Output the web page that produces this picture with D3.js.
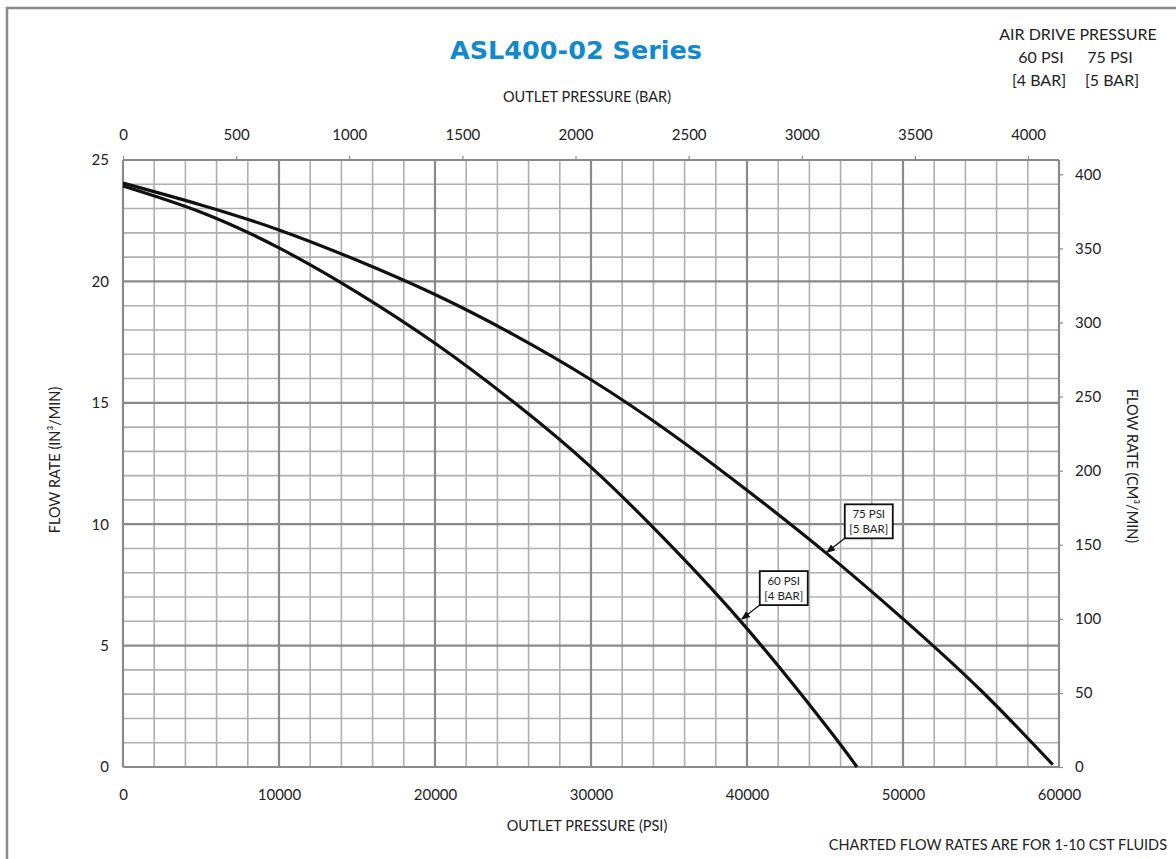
<!DOCTYPE html>
<html>
<head>
<meta charset="utf-8">
<script src="https://cdn.jsdelivr.net/npm/d3@7"></script>
<style>
  html, body { margin: 0; padding: 0; background: #fff; }
  svg { display: block; }
  text { font-family: Lato, "Noto Sans", sans-serif; fill: #222; }
</style>
</head>
<body>
<svg id="chart" width="1176" height="859"></svg>
<script>
// ---------- DATA ----------
const psi75X = [0, 5000, 10000, 15000, 20000, 25000, 30000, 35000, 40000, 45000, 50000, 55000, 59600];
const psi75Y = [24.05, 23.15, 22.12, 20.87, 19.46, 17.82, 15.95, 13.8, 11.4, 8.85, 6.1, 3.15, 0.1];
const psi60X = [0, 5000, 10000, 15000, 20000, 25000, 30000, 35000, 40000, 45000, 47050];
const psi60Y = [23.93, 22.85, 21.38, 19.55, 17.45, 15.05, 12.35, 9.2, 5.7, 1.75, 0];
const psiTicks = [0, 10000, 20000, 30000, 40000, 50000, 60000];
const barTicks = [0, 500, 1000, 1500, 2000, 2500, 3000, 3500, 4000];
const in3Ticks = [0, 5, 10, 15, 20, 25];
const cm3Ticks = [0, 50, 100, 150, 200, 250, 300, 350, 400];
const seriesNames = ["60 PSI", "75 PSI"];
const seriesBars = ["[4 BAR]", "[5 BAR]"];
const calloutAt = [{ psi: 39600, flow: 6.05 }, { psi: 45050, flow: 8.8 }];
const PSI_PER_BAR = 14.5038;
const CM3_PER_IN3 = 16.387;
const X_MAX = 60000, Y_MAX = 25;

// ---------- LAYOUT ----------
const svg = d3.select("#chart");
const L = 123, R = 1059, T = 160, B = 767;

const x = d3.scaleLinear().domain([0, X_MAX]).range([L, R]);
const xBar = d3.scaleLinear().domain([0, X_MAX / PSI_PER_BAR]).range([L, R]);
const y = d3.scaleLinear().domain([0, Y_MAX]).range([B, T]);
const yCm = d3.scaleLinear().domain([0, Y_MAX * CM3_PER_IN3]).range([B, T]);

// outer frame
svg.append("rect").attr("x", 7).attr("y", 8).attr("width", 1200).attr("height", 900)
  .attr("fill", "none").attr("stroke", "#8a8a8a").attr("stroke-width", 2.5);

// grid
const g = svg.append("g");
const minorX = d3.range(0, X_MAX + 1, 2000);
const minorY = d3.range(0, Y_MAX + 0.001, 1);
g.selectAll(".mx").data(minorX.filter(v => v % 10000 !== 0)).join("line")
  .attr("x1", d => x(d)).attr("x2", d => x(d)).attr("y1", T).attr("y2", B)
  .attr("stroke", "#b0b0b0").attr("stroke-width", 1.6);
g.selectAll(".my").data(minorY.filter(v => v % 5 !== 0)).join("line")
  .attr("x1", L).attr("x2", R).attr("y1", d => y(d)).attr("y2", d => y(d))
  .attr("stroke", "#b0b0b0").attr("stroke-width", 1.6);
g.selectAll(".Mx").data(psiTicks).join("line")
  .attr("x1", d => x(d)).attr("x2", d => x(d)).attr("y1", T).attr("y2", B)
  .attr("stroke", "#8a8a8a").attr("stroke-width", 2.2);
g.selectAll(".My").data(in3Ticks).join("line")
  .attr("x1", L).attr("x2", R).attr("y1", d => y(d)).attr("y2", d => y(d))
  .attr("stroke", "#8a8a8a").attr("stroke-width", 2.2);

// axes
function styleAxis(sel) {
  sel.select(".domain").remove();
  sel.selectAll(".tick line").attr("stroke", "#8a8a8a").attr("stroke-width", 1.2);
  sel.selectAll(".tick text").attr("font-size", 15).attr("fill", "#222")
    .style("font-family", "Lato, 'Noto Sans', sans-serif");
}
svg.append("g").attr("transform", `translate(0,${B})`)
  .call(d3.axisBottom(x).tickValues(psiTicks).tickSize(0).tickPadding(22).tickFormat(d3.format("d")))
  .call(styleAxis);
svg.append("g").attr("transform", `translate(${L},0)`)
  .call(d3.axisLeft(y).tickValues(in3Ticks).tickSize(0).tickPadding(14).tickFormat(d3.format("d")))
  .call(styleAxis);
svg.append("g").attr("transform", `translate(0,${T})`)
  .call(d3.axisTop(xBar).tickValues(barTicks).tickSize(4).tickPadding(16).tickFormat(d3.format("d")))
  .call(styleAxis);
svg.append("g").attr("transform", `translate(${R},0)`)
  .call(d3.axisRight(yCm).tickValues(cm3Ticks).tickSize(4).tickPadding(12).tickFormat(d3.format("d")))
  .call(styleAxis);

// curves
const line = d3.line().x(d => x(d[0])).y(d => y(d[1])).curve(d3.curveNatural);
[[psi60X, psi60Y], [psi75X, psi75Y]].forEach(([xs, ys]) => {
  svg.append("path").datum(xs.map((v, i) => [v, ys[i]]))
    .attr("d", line).attr("fill", "none").attr("stroke", "#111").attr("stroke-width", 3.2)
    .attr("stroke-linejoin", "round");
});

// arrow marker
svg.append("defs").append("marker").attr("id", "arr").attr("viewBox", "0 0 10 10")
  .attr("refX", 9).attr("refY", 5).attr("markerWidth", 7).attr("markerHeight", 7)
  .attr("orient", "auto").append("path").attr("d", "M0,1 L10,5 L0,9 z").attr("fill", "#111");

// callouts
calloutAt.forEach((c, i) => {
  const px = x(c.psi), py = y(c.flow);
  const bx = px + 19, by = py - 49, bw = 48, bh = 34;
  svg.append("line").attr("x1", bx).attr("y1", by + bh).attr("x2", px + 1).attr("y2", py - 1)
    .attr("stroke", "#111").attr("stroke-width", 1.3).attr("marker-end", "url(#arr)");
  svg.append("rect").attr("x", bx).attr("y", by).attr("width", bw).attr("height", bh)
    .attr("fill", "#fff").attr("stroke", "#111").attr("stroke-width", 1.8);
  svg.append("text").attr("x", bx + bw / 2).attr("y", by + 14).attr("text-anchor", "middle")
    .attr("font-size", 11.5).text(seriesNames[i]);
  svg.append("text").attr("x", bx + bw / 2).attr("y", by + 29).attr("text-anchor", "middle")
    .attr("font-size", 11.5).text(seriesBars[i]);
});

// titles
svg.append("text").attr("x", 576).attr("y", 59).attr("text-anchor", "middle")
  .style("font-family", "'DejaVu Sans', Verdana, sans-serif").attr("font-weight", "bold")
  .attr("font-size", 25.5).style("fill", "#1189cd").text("ASL400-02 Series");
svg.append("text").attr("x", 587).attr("y", 102).attr("text-anchor", "middle")
  .attr("font-size", 14.5).text("OUTLET PRESSURE (BAR)");
svg.append("text").attr("x", 587).attr("y", 831).attr("text-anchor", "middle")
  .attr("font-size", 14.5).text("OUTLET PRESSURE (PSI)");
svg.append("text").attr("transform", "translate(60,460) rotate(-90)").attr("text-anchor", "middle")
  .attr("font-size", 14.5).text("FLOW RATE (IN³/MIN)");
svg.append("text").attr("transform", "translate(1127,466) rotate(90)").attr("text-anchor", "middle")
  .attr("font-size", 14.5).text("FLOW RATE (CM³/MIN)");
svg.append("text").attr("x", 1167).attr("y", 850).attr("text-anchor", "end")
  .attr("font-size", 14.5).text("CHARTED FLOW RATES ARE FOR 1-10 CST FLUIDS");

// legend top-right
svg.append("text").attr("x", 1078).attr("y", 40).attr("text-anchor", "middle")
  .attr("font-size", 16).text("AIR DRIVE PRESSURE");
[1041, 1110].forEach((cx, i) => {
  svg.append("text").attr("x", cx).attr("y", 63).attr("text-anchor", "middle")
    .attr("font-size", 16).text(seriesNames[i]);
  svg.append("text").attr("x", cx - 2 + i * 4).attr("y", 86).attr("text-anchor", "middle")
    .attr("font-size", 16).text(seriesBars[i]);
});
</script>
</body>
</html>
